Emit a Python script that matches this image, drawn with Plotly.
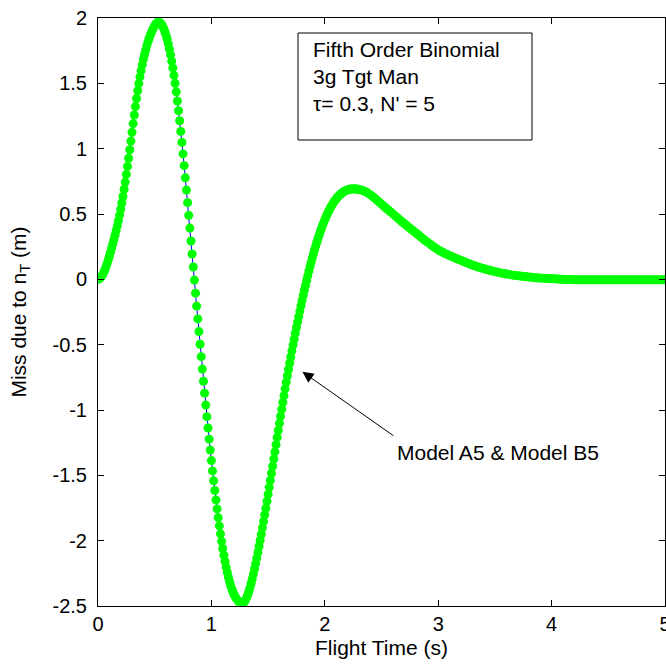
import plotly.graph_objects as go

# ---------------- data ----------------
# fine samples: t = 0.00 .. 2.30 s, step 0.01 s
miss_fine = [
    0.000, 0.004, 0.011, 0.022, 0.034, 0.051, 0.071, 0.095, 0.120, 0.148,
    0.177, 0.208, 0.239, 0.270, 0.303, 0.337, 0.372, 0.409, 0.449, 0.491,
    0.536, 0.584, 0.634, 0.688, 0.744, 0.803, 0.864, 0.927, 0.992, 1.058,
    1.125, 1.192, 1.258, 1.322, 1.384, 1.443, 1.498, 1.549, 1.597, 1.641,
    1.682, 1.719, 1.754, 1.786, 1.815, 1.842, 1.866, 1.888, 1.908, 1.926,
    1.942, 1.954, 1.963, 1.970, 1.968, 1.962, 1.952, 1.937, 1.918, 1.895,
    1.868, 1.837, 1.802, 1.762, 1.718, 1.670, 1.618, 1.561, 1.500, 1.435,
    1.365, 1.291, 1.214, 1.132, 1.048, 0.960, 0.870, 0.777, 0.683, 0.587,
    0.490, 0.392, 0.293, 0.194, 0.094, -0.006, -0.106, -0.205, -0.303, -0.400,
    -0.497, -0.592, -0.687, -0.780, -0.871, -0.962, -1.051, -1.138, -1.223, -1.306,
    -1.387, -1.466, -1.542, -1.616, -1.688, -1.757, -1.824, -1.887, -1.948, -2.005,
    -2.060, -2.111, -2.159, -2.203, -2.243, -2.280, -2.313, -2.343, -2.370, -2.393,
    -2.413, -2.429, -2.444, -2.455, -2.465, -2.472, -2.476, -2.478, -2.476, -2.468,
    -2.456, -2.438, -2.416, -2.390, -2.361, -2.328, -2.293, -2.256, -2.217, -2.176,
    -2.134, -2.090, -2.045, -1.998, -1.951, -1.902, -1.853, -1.802, -1.751, -1.698,
    -1.646, -1.592, -1.539, -1.484, -1.430, -1.375, -1.320, -1.265, -1.210, -1.156,
    -1.101, -1.048, -0.994, -0.942, -0.890, -0.838, -0.788, -0.738, -0.690, -0.642,
    -0.594, -0.548, -0.502, -0.458, -0.413, -0.370, -0.327, -0.285, -0.243, -0.202,
    -0.162, -0.122, -0.084, -0.046, -0.008, 0.028, 0.064, 0.098, 0.132, 0.164,
    0.196, 0.226, 0.256, 0.284, 0.312, 0.338, 0.364, 0.388, 0.412, 0.434,
    0.456, 0.476, 0.496, 0.514, 0.532, 0.548, 0.564, 0.578, 0.592, 0.604,
    0.616, 0.626, 0.636, 0.645, 0.653, 0.660, 0.666, 0.672, 0.677, 0.681,
    0.684, 0.687, 0.689, 0.691, 0.692, 0.692, 0.692, 0.692, 0.691, 0.690,
    0.688,
]
fine_start, fine_step = 0.0, 0.01

# coarse samples: t = 2.30 .. 5.00 s, step 0.02 s
miss_coarse = [
    0.688, 0.684, 0.678, 0.670, 0.660, 0.648, 0.635, 0.621, 0.606, 0.591,
    0.576, 0.561, 0.546, 0.531, 0.516, 0.501, 0.486, 0.471, 0.456, 0.441,
    0.427, 0.413, 0.399, 0.385, 0.371, 0.357, 0.343, 0.329, 0.315, 0.301,
    0.288, 0.275, 0.262, 0.249, 0.237, 0.225, 0.216, 0.207, 0.198, 0.190,
    0.182, 0.174, 0.166, 0.159, 0.152, 0.145, 0.138, 0.131, 0.124, 0.117,
    0.110, 0.104, 0.098, 0.092, 0.087, 0.082, 0.077, 0.072, 0.067, 0.063,
    0.059, 0.055, 0.051, 0.047, 0.044, 0.041, 0.038, 0.035, 0.032, 0.030,
    0.028, 0.026, 0.024, 0.022, 0.020, 0.018, 0.016, 0.014, 0.012, 0.011,
    0.010, 0.009, 0.008, 0.007, 0.006, 0.005, 0.004, 0.003, 0.002, 0.001,
    0.000, -0.001, -0.001, -0.002, -0.002, -0.003,
    -0.003, -0.003, -0.003, -0.003, -0.003, -0.003, -0.003, -0.003, -0.003, -0.003,
    -0.003, -0.003, -0.003, -0.003, -0.003, -0.003, -0.003, -0.003, -0.003, -0.003,
    -0.003, -0.003, -0.003, -0.003, -0.003, -0.003, -0.003, -0.003, -0.003, -0.003,
    -0.003, -0.003, -0.003, -0.003, -0.003, -0.003, -0.003, -0.003, -0.003, -0.003,
]
coarse_start, coarse_step = 2.30, 0.02

x_tickvals = [0, 1, 2, 3, 4, 5]
x_ticktext = ["0", "1", "2", "3", "4", "5"]
y_tickvals = [-2.5, -2, -1.5, -1, -0.5, 0, 0.5, 1, 1.5, 2]
y_ticktext = ["-2.5", "-2", "-1.5", "-1", "-0.5", "0", "0.5", "1", "1.5", "2"]

info_lines = ["Fifth Order Binomial", "3g Tgt Man", "\u03c4= 0.3, N' = 5"]
arrow_label = "Model A5 & Model B5"
arrow_target = (1.803, -0.708)

# ---------------- figure ----------------
FONT = "Liberation Sans, Arial, sans-serif"
GREEN = "#00FF00"
BLUE = "#0000FF"

fig = go.Figure()
for y0, x0, dx in [(miss_fine, fine_start, fine_step), (miss_coarse, coarse_start, coarse_step)]:
    fig.add_trace(go.Scatter(
        y=y0, x0=x0, dx=dx, mode="lines+markers",
        line=dict(color=BLUE, width=1),
        marker=dict(color=GREEN, size=9, line=dict(width=0)),
        showlegend=False, hoverinfo="skip",
    ))

axis_common = dict(
    showline=True, linecolor="black", linewidth=1, mirror="ticks",
    ticks="inside", ticklen=6, tickcolor="black", tickwidth=1,
    showgrid=False, zeroline=False, ticklabeloverflow="allow", automargin=False,
    tickfont=dict(family=FONT, size=20, color="black"),
    title_font=dict(family=FONT, size=21, color="black"),
)

fig.update_xaxes(range=[0, 5], tickmode="array", tickvals=x_tickvals, ticktext=x_ticktext,
                 title_text="Flight Time (s)", title_standoff=6, **axis_common)
fig.update_yaxes(range=[-2.5, 2], tickmode="array", tickvals=y_tickvals, ticktext=y_ticktext,
                 title_text="Miss due to n<sub>T</sub> (m)", title_standoff=20,
                 ticklabelstandoff=6, **axis_common)

# information box
fig.add_shape(type="rect", xref="paper", yref="paper",
              x0=(298 - 98) / 567, x1=(532 - 98) / 567,
              y0=1 - (140 - 18) / 588, y1=1 - (33 - 18) / 588,
              line=dict(color="black", width=1), fillcolor="white", layer="above")
for i, txt in enumerate(info_lines):
    fig.add_annotation(xref="paper", yref="paper",
                       x=(311 - 98) / 567, y=1 - (50 + 26.5 * i - 18) / 588,
                       xanchor="left", yanchor="middle", showarrow=False,
                       text=txt, font=dict(family=FONT, size=21, color="black"))

# arrow + label
fig.add_annotation(x=arrow_target[0], y=arrow_target[1], xref="x", yref="y",
                   text=" ", showarrow=True, ax=94, ay=66,
                   arrowhead=2, arrowsize=2.2, arrowwidth=1, arrowcolor="black")
fig.add_annotation(xref="paper", yref="paper",
                   x=(395 - 98) / 567, y=1 - (452 - 18) / 588,
                   xanchor="left", yanchor="middle", showarrow=False,
                   text=arrow_label, font=dict(family=FONT, size=21, color="black"))

fig.update_layout(
    width=666, height=668,
    margin=dict(l=98, r=1, t=18, b=62),
    paper_bgcolor="white", plot_bgcolor="white",
    font=dict(family=FONT, color="black"),
)

fig.write_html("out.html", config={"displayModeBar": False},
               post_script="document.body.style.margin='0';")
